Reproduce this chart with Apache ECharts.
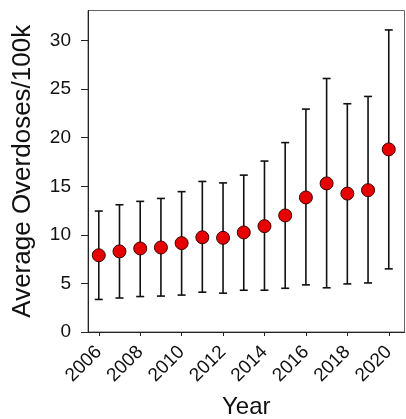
<!DOCTYPE html>
<html><head><meta charset="utf-8">
<script src="https://cdn.jsdelivr.net/npm/echarts@6/dist/echarts.min.js"></script>
<style>html,body{margin:0;padding:0;background:#fff}#c{width:406px;height:419px}</style>
</head><body><div id="c"></div>
<script>
const years = [2006,2007,2008,2009,2010,2011,2012,2013,2014,2015,2016,2017,2018,2019,2020];
const means = [7.9,8.3,8.6,8.7,9.15,9.75,9.7,10.25,10.9,12.0,13.85,15.3,14.25,14.6,18.8];
const lows  = [3.35,3.5,3.65,3.7,3.8,4.1,4.0,4.3,4.3,4.5,4.85,4.55,4.95,5.05,6.5];
const highs = [12.45,13.1,13.45,13.75,14.45,15.5,15.35,16.15,17.6,19.5,22.95,26.1,23.5,24.25,31.1];
const xTicks = [2006,2008,2010,2012,2014,2016,2018,2020];
const yTicks = [0,5,10,15,20,25,30];

const FONT = 'Liberation Sans, Arial, sans-serif';
const chart = echarts.init(document.getElementById('c'), null, {renderer:'canvas'});
const errData = years.map((y,i)=>[y, lows[i], highs[i]]);
const ptData = years.map((y,i)=>[y, means[i]]);

chart.setOption({
  animation:false,
  grid:{left:88, right:1.5, top:10.5, bottom:87, containLabel:false, outerBoundsMode:'none',
    show:true, borderColor:'#666', borderWidth:1, backgroundColor:'transparent'},
  xAxis:{
    type:'value', min:2005.48, max:2020.76,
    name:'Year', nameLocation:'middle', nameGap:63,
    nameTextStyle:{fontFamily:FONT, fontSize:24, color:'#111'},
    axisLine:{show:true, lineStyle:{color:'#222', width:1}},
    axisTick:{show:true, length:4, inside:false, customValues:xTicks, lineStyle:{color:'#222'}},
    axisLabel:{customValues:xTicks, rotate:45, margin:17, fontFamily:FONT, fontSize:19, color:'#111',
      formatter:v=>String(v)},
    splitLine:{show:false}
  },
  yAxis:{
    type:'value', min:0, max:33.1,
    name:'Average Overdoses/100k', nameLocation:'middle', nameGap:52, nameRotate:90,
    nameTextStyle:{fontFamily:FONT, fontSize:26, color:'#111'},
    axisLine:{show:true, lineStyle:{color:'#222', width:1}},
    axisTick:{show:true, length:7, customValues:yTicks, lineStyle:{color:'#222'}},
    axisLabel:{customValues:yTicks, margin:17, fontFamily:FONT, fontSize:19, color:'#111'},
    splitLine:{show:false}
  },
  series:[
    {
      type:'custom',
      data:errData,
      encode:{x:0, y:[1,2]},
      renderItem:function(params, api){
        const x = api.value(0);
        const lo = api.coord([x, api.value(1)]);
        const hi = api.coord([x, api.value(2)]);
        const hw = 4;
        const st = {stroke:'#111', lineWidth:1.6};
        return {type:'group', children:[
          {type:'line', shape:{x1:lo[0], y1:lo[1], x2:hi[0], y2:hi[1]}, style:st},
          {type:'line', shape:{x1:hi[0]-hw, y1:hi[1], x2:hi[0]+hw, y2:hi[1]}, style:st},
          {type:'line', shape:{x1:lo[0]-hw, y1:lo[1], x2:lo[0]+hw, y2:lo[1]}, style:st}
        ]};
      },
      z:2
    },
    {
      type:'scatter',
      data:ptData,
      symbol:'circle', symbolSize:13,
      itemStyle:{color:'#e60000', borderColor:'#3a0000', borderWidth:1, opacity:1},
      z:3
    }
  ]
});
</script></body></html>
